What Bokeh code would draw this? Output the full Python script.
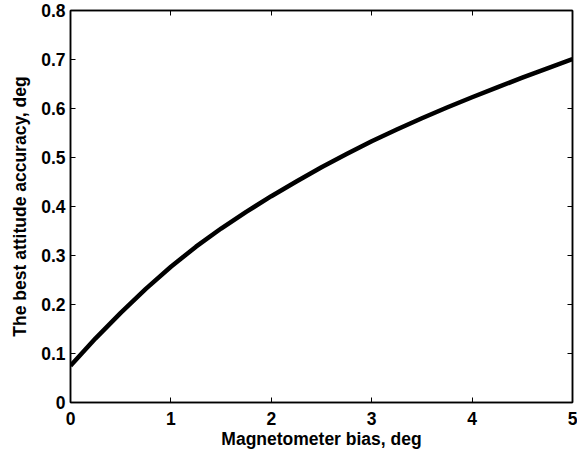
from bokeh.plotting import figure
from bokeh.models import FixedTicker, LinearAxis, Range1d
from bokeh.embed import file_html
from bokeh.resources import INLINE

# Data
bias_deg = [0.0, 0.25, 0.5, 0.75, 1.0, 1.25, 1.5, 1.75, 2.0, 2.25, 2.5, 2.75,
            3.0, 3.25, 3.5, 3.75, 4.0, 4.25, 4.5, 4.75, 5.0]
accuracy_deg = [0.075, 0.131, 0.183, 0.232, 0.277, 0.318, 0.355, 0.389, 0.421,
                0.451, 0.480, 0.507, 0.533, 0.557, 0.580, 0.602, 0.623, 0.643,
                0.663, 0.682, 0.701]

x_ticks = [0, 1, 2, 3, 4, 5]
y_ticks = [0, 0.1, 0.2, 0.3, 0.4, 0.5, 0.6, 0.7, 0.8]
y_tick_labels = ["0", "0.1", "0.2", "0.3", "0.4", "0.5", "0.6", "0.7", "0.8"]

FONT = "Liberation Sans"

p = figure(width=577, height=457, output_backend="svg", toolbar_location=None,
           x_range=Range1d(0, 5), y_range=Range1d(0, 0.8),
           min_border_left=70, min_border_right=5, min_border_top=10,
           min_border_bottom=55)
p.xgrid.visible = False
p.ygrid.visible = False
p.outline_line_color = "black"
p.outline_line_width = 1.5
p.background_fill_color = "white"
p.border_fill_color = "white"

p.line(bias_deg, accuracy_deg, line_color="black", line_width=4.5, line_join="round")

def style(ax, ticks, show_labels=True):
    ax.ticker = FixedTicker(ticks=ticks)
    ax.major_tick_in = 5
    ax.major_tick_out = 0
    ax.minor_tick_line_color = None
    ax.axis_line_color = "black"
    ax.axis_line_width = 1.5
    ax.major_tick_line_color = "black"
    ax.major_tick_line_width = 1
    ax.major_label_text_font = FONT
    ax.major_label_text_font_style = "bold"
    ax.major_label_text_font_size = "17.5px"
    ax.major_label_text_color = "black"
    ax.axis_label_text_font = FONT
    ax.axis_label_text_font_style = "bold"
    ax.axis_label_text_font_size = "17.5px"
    ax.axis_label_text_color = "black"
    if not show_labels:
        ax.major_label_text_font_size = "0px"
        ax.major_label_text_color = None

style(p.xaxis[0], x_ticks)
style(p.yaxis[0], y_ticks)
p.xaxis[0].axis_label = "Magnetometer bias, deg"
p.yaxis[0].axis_label = "The best attitude accuracy, deg"
p.yaxis[0].major_label_overrides = {t: l for t, l in zip(y_ticks, y_tick_labels)}
p.xaxis[0].major_label_standoff = 9
p.yaxis[0].major_label_standoff = 5
p.xaxis[0].axis_label_standoff = 1
p.yaxis[0].axis_label_standoff = 8

top = LinearAxis()
style(top, x_ticks, show_labels=False)
top.major_label_standoff = 0
p.add_layout(top, "above")
right = LinearAxis()
style(right, y_ticks, show_labels=False)
right.major_label_standoff = 0
p.add_layout(right, "right")

open("out.html", "w").write(file_html(p, INLINE))
